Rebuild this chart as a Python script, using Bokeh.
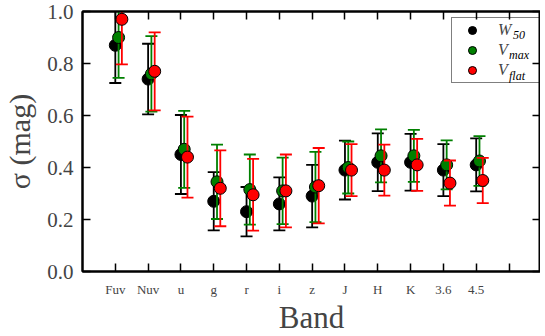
import math
from bokeh.plotting import figure
from bokeh.models import (FixedTicker, LinearAxis, Legend, LegendItem, Label,
                          ColumnDataSource)
from bokeh.embed import file_html
from bokeh.resources import INLINE

# ---- data ----
bands = ["Fuv", "Nuv", "u", "g", "r", "i", "z", "J", "H", "K", "3.6", "4.5"]
w50 = [0.87, 0.74, 0.45, 0.27, 0.23, 0.26, 0.29, 0.39, 0.42, 0.42, 0.39, 0.41]
w50_err = [0.145, 0.136, 0.152, 0.112, 0.095, 0.102, 0.12, 0.113, 0.111, 0.109, 0.10, 0.102]
vmax = [0.90, 0.76, 0.47, 0.345, 0.315, 0.31, 0.325, 0.40, 0.445, 0.445, 0.41, 0.425]
vmax_err = [0.155, 0.145, 0.148, 0.143, 0.135, 0.128, 0.135, 0.10, 0.102, 0.10, 0.094, 0.096]
vflat = [0.97, 0.77, 0.44, 0.32, 0.295, 0.31, 0.33, 0.39, 0.39, 0.41, 0.34, 0.35]
vflat_err = [0.173, 0.15, 0.156, 0.146, 0.138, 0.14, 0.145, 0.10, 0.098, 0.10, 0.087, 0.087]
series_names = ["W", "V", "V"]
series_subs = ["50", "max", "flat"]
series_colors = ["black", "#008000", "#ff0000"]
series_offsets = [0.0, 0.1, 0.2]
yticks = [0.0, 0.2, 0.4, 0.6, 0.8, 1.0]

SERIF = "Liberation Serif"

p = figure(frame_width=458, frame_height=260,
           x_range=(0, 13.96), y_range=(0, 1.0),
           output_backend="svg", toolbar_location=None,
           min_border_left=78, min_border_top=11, min_border_right=0,
           min_border_bottom=50)
p.background_fill_color = "white"
p.border_fill_color = "white"
p.xgrid.visible = False
p.ygrid.visible = False
p.outline_line_color = "black"
p.outline_line_width = 2

xticks = list(range(1, len(bands) + 2))
overrides = {i + 1: b for i, b in enumerate(bands)}
overrides[len(bands) + 1] = ""

def style_axis(ax):
    ax.axis_line_width = 2
    ax.major_tick_in = 8
    ax.major_tick_out = 0
    ax.major_tick_line_width = 1.5
    ax.minor_tick_in = 0
    ax.minor_tick_out = 0

xa = p.xaxis[0]
xa.ticker = FixedTicker(ticks=xticks)
xa.major_label_overrides = overrides
xa.major_label_text_font = SERIF
xa.major_label_text_font_size = "13px"
xa.major_label_standoff = 10
xa.axis_label = "Band"
xa.axis_label_text_font = SERIF
xa.axis_label_text_font_style = "normal"
xa.axis_label_text_font_size = "31px"
xa.axis_label_standoff = 0
style_axis(xa)

ya = p.yaxis[0]
ya.ticker = FixedTicker(ticks=yticks)
ya.major_label_overrides = {t: f"{t:.1f}" for t in yticks}
ya.major_label_text_font = SERIF
ya.major_label_text_font_size = "21px"
ya.major_label_standoff = 9
ya.axis_label = "σ (mag)"
ya.axis_label_text_font = SERIF
ya.axis_label_text_font_style = "normal"
ya.axis_label_text_font_size = "30px"
ya.axis_label_standoff = 8
style_axis(ya)

top = LinearAxis(ticker=FixedTicker(ticks=xticks),
                 major_label_overrides={t: "" for t in xticks},
                 major_label_standoff=0)
style_axis(top)
p.add_layout(top, "above")
right = LinearAxis(ticker=FixedTicker(ticks=yticks),
                   major_label_overrides={t: "" for t in yticks},
                   major_label_standoff=0)
style_axis(right)
p.add_layout(right, "right")

items = []
for vals, errs, color, off, name in zip([w50, vmax, vflat], [w50_err, vmax_err, vflat_err],
                                        series_colors, series_offsets, series_names):
    xs = [i + 1 + off for i in range(len(bands))]
    lo = [v - e for v, e in zip(vals, errs)]
    hi = [v + e for v, e in zip(vals, errs)]
    src = ColumnDataSource(dict(x=xs, y=vals, lo=lo, hi=hi))
    p.segment(x0="x", y0="lo", x1="x", y1="hi", source=src, line_color=color, line_width=1.8)
    p.scatter(x="x", y="lo", source=src, marker="dash", size=12, line_color=color, line_width=1.8)
    p.scatter(x="x", y="hi", source=src, marker="dash", size=12, line_color=color, line_width=1.8)
    pts = p.scatter(x="x", y="y", source=src, marker="circle", size=12,
                    fill_color=color, line_color="black", line_width=1)
    bar = p.scatter(x=[float("nan")], y=[float("nan")], marker="dash", angle=math.pi / 2,
                    size=14, line_color=color, line_width=1.8)
    items.append(LegendItem(label=name, renderers=[bar, pts]))

leg = Legend(items=items, location=(369, 188), margin=0,
             border_line_color="black", border_line_width=1.5,
             padding=2, spacing=0, glyph_width=36, glyph_height=20,
             label_standoff=8, label_width=43, label_height=20,
             label_text_font=SERIF, label_text_font_style="italic",
             label_text_font_size="16px", background_fill_alpha=0.0)
p.add_layout(leg, "center")

# subscripts of the legend labels (placed in data units beside the legend labels)
for sub, sx, sy in zip(series_subs, [13.12, 13.0, 13.0], [0.910, 0.833, 0.752]):
    p.add_layout(Label(x=sx, y=sy, text=sub, text_color="black",
                       text_font=SERIF, text_font_style="italic", text_font_size="12px",
                       text_baseline="alphabetic"))

open("out.html", "w").write(file_html(p, INLINE))
